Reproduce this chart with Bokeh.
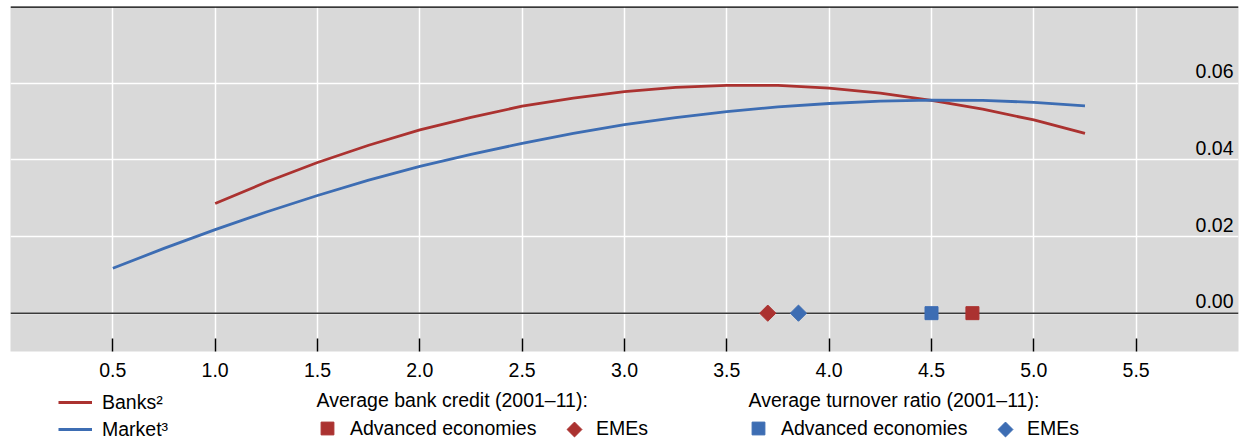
from bokeh.plotting import figure
from bokeh.layouts import column
from bokeh.models import Range1d, FixedTicker, Span, Legend, LegendItem, Label
from bokeh.core.properties import value
from bokeh.embed import file_html
from bokeh.resources import INLINE
import math

# ---------------- data ----------------
banks_x = [1.0, 1.25, 1.5, 1.75, 2.0, 2.25, 2.5, 2.75, 3.0, 3.25, 3.5, 3.75,
           4.0, 4.25, 4.5, 4.75, 5.0, 5.25]
banks_y = [0.0286, 0.0342, 0.0393, 0.0438, 0.0478, 0.0511, 0.0540, 0.0561,
           0.0578, 0.0589, 0.0594, 0.0594, 0.0587, 0.0574, 0.0555, 0.0532,
           0.0504, 0.0469]

market_x = [0.5, 0.75, 1.0, 1.25, 1.5, 1.75, 2.0, 2.25, 2.5, 2.75, 3.0, 3.25,
            3.5, 3.75, 4.0, 4.25, 4.5, 4.75, 5.0, 5.25]
market_y = [0.0117, 0.0169, 0.0218, 0.0264, 0.0307, 0.0347, 0.0383, 0.0414,
            0.0443, 0.0469, 0.0492, 0.0510, 0.0526, 0.0538, 0.0547, 0.0553,
            0.0556, 0.0555, 0.0550, 0.0541]

# averages (2001-11), plotted on the zero line
bank_credit_ae = [4.7]
bank_credit_eme = [3.7]
turnover_ae = [4.5]
turnover_eme = [3.85]
zero = [0.0]

x_ticks = [0.5, 1.0, 1.5, 2.0, 2.5, 3.0, 3.5, 4.0, 4.5, 5.0, 5.5]
x_tick_labels = ["0.5", "1.0", "1.5", "2.0", "2.5", "3.0", "3.5", "4.0",
                 "4.5", "5.0", "5.5"]
y_ticks = [0.0, 0.02, 0.04, 0.06]
y_tick_labels = ["0.00", "0.02", "0.04", "0.06"]

series_labels = ["Banks\u00b2", "Market\u00b3"]
group_titles = ["Average bank credit (2001\u201311):",
                "Average turnover ratio (2001\u201311):"]
group_items = ["Advanced economies", "EMEs"]

# ---------------- style ----------------
RED = "#ab3230"
BLUE = "#3d6db3"
FONT = "Liberation Sans"
FS = "19.5px"
W = 1244
LW = 2.8
DIAMOND = math.pi / 4

p = figure(width=W, height=386,
           x_range=Range1d(0, 6), y_range=Range1d(-0.01, 0.08),
           output_backend="svg", toolbar_location=None,
           y_axis_location=None,
           min_border_left=10, min_border_top=6, min_border_right=6,
           min_border_bottom=35)
p.background_fill_color = "#d9d9d9"
p.border_fill_color = "white"
p.outline_line_color = None

# grids
p.xgrid.ticker = FixedTicker(ticks=x_ticks)
p.ygrid.ticker = FixedTicker(ticks=y_ticks)
for g in (p.xgrid, p.ygrid):
    g.grid_line_color = "white"
    g.grid_line_width = 1.5

# x axis
xax = p.xaxis[0]
xax.ticker = FixedTicker(ticks=x_ticks)
xax.major_label_overrides = {t: l for t, l in zip(x_ticks, x_tick_labels)}
xax.axis_line_color = None
xax.major_tick_in = 13
xax.major_tick_out = 0
xax.major_tick_line_color = "black"
xax.major_tick_line_width = 1.5
xax.minor_tick_line_color = None
xax.major_label_standoff = 11
xax.major_label_text_font = FONT
xax.major_label_text_font_size = FS
xax.major_label_text_color = "black"

# zero line and top rule
p.add_layout(Span(location=0.0, dimension="width", line_color="#3a3a3a",
                  line_width=1.5, level="underlay"))
p.add_layout(Span(location=p.y_range.end, dimension="width", line_color="black",
                  line_width=2.5))

# y tick labels inside the plot, just above their grid lines
p.text(x=[p.x_range.end] * len(y_ticks), y=y_ticks, text=y_tick_labels,
       x_offset=-5, y_offset=-12, text_align="right", text_baseline="middle",
       text_font=value(FONT), text_font_size=value(FS), text_color="black")

# curves
p.line(banks_x, banks_y, line_color=RED, line_width=LW, line_join="round")
p.line(market_x, market_y, line_color=BLUE, line_width=LW, line_join="round")

# markers on the zero line
p.scatter(bank_credit_ae, zero, marker="square", size=13,
          fill_color=RED, line_color=RED)
p.scatter(bank_credit_eme, zero, marker="square", size=11.5,
          angle=DIAMOND, fill_color=RED, line_color=RED)
p.scatter(turnover_eme, zero, marker="square", size=11.5,
          angle=DIAMOND, fill_color=BLUE, line_color=BLUE)
p.scatter(turnover_ae, zero, marker="square", size=13,
          fill_color=BLUE, line_color=BLUE)

# ---------------- legend strip ----------------
# its frame is aligned with the chart frame (x 10..1238); ranges in pixels
LH = 441 - 386
q = figure(width=W, height=LH, x_range=Range1d(10, 1238),
           y_range=Range1d(441, 386),
           output_backend="svg", toolbar_location=None,
           x_axis_location=None, y_axis_location=None,
           min_border_left=0, min_border_right=0, min_border_top=0,
           min_border_bottom=0)
q.grid.visible = False
q.outline_line_color = None
q.background_fill_color = None
q.border_fill_color = "white"

# legend proxies (no visible data)
nan = float("nan")
e = dict(x=[nan, nan], y=[nan, nan])
l_banks = q.line(line_color=RED, line_width=LW, **e)
l_market = q.line(line_color=BLUE, line_width=LW, **e)
l_bc_ae = q.scatter(marker="square", fill_color=RED, line_color=RED, **e)
l_to_ae = q.scatter(marker="square", fill_color=BLUE, line_color=BLUE, **e)
l_blank = q.scatter(marker="square", fill_alpha=0, line_alpha=0, **e)

common = dict(padding=0, margin=0, background_fill_alpha=0,
              border_line_color=None, label_text_font=FONT,
              label_text_font_size=FS, label_text_color="black",
              orientation="horizontal")

X0 = 10
legA = Legend(items=[LegendItem(label=series_labels[0], renderers=[l_banks]),
                     LegendItem(label=series_labels[1], renderers=[l_market])],
              location=(58 - X0, 0), glyph_width=34, glyph_height=24,
              label_height=24, label_standoff=10, spacing=3,
              **{**common, "orientation": "vertical"})
legB1 = Legend(items=[LegendItem(label=group_items[0], renderers=[l_bc_ae])],
               location=(311 - X0, -3), glyph_width=32, glyph_height=32,
               label_standoff=7, **common)
legB2 = Legend(items=[LegendItem(label=group_items[1], renderers=[l_blank])],
               location=(561 - X0, 0), glyph_width=26, glyph_height=26,
               label_standoff=9, **common)
legC1 = Legend(items=[LegendItem(label=group_items[0], renderers=[l_to_ae])],
               location=(742 - X0, -3), glyph_width=32, glyph_height=32,
               label_standoff=7, **common)
legC2 = Legend(items=[LegendItem(label=group_items[1], renderers=[l_blank])],
               location=(992 - X0, 0), glyph_width=26, glyph_height=26,
               label_standoff=9, **common)
for lg in (legA, legB1, legB2, legC1, legC2):
    q.add_layout(lg)

# diamond swatches (Bokeh legends do not rotate markers)
q.scatter(x=[574, 1005], y=[429, 429], marker="square", size=10.5,
          angle=DIAMOND, fill_color=[RED, BLUE], line_color=[RED, BLUE])

for tx, title in zip([316, 748], group_titles):
    q.add_layout(Label(x=tx - X0, y=441 - 399, x_units="screen", y_units="screen",
                       text=title, text_baseline="middle", text_align="left",
                       text_font=FONT, text_font_size=FS, text_color="black"))

open("out.html", "w").write(file_html(column(p, q, spacing=0), INLINE))
